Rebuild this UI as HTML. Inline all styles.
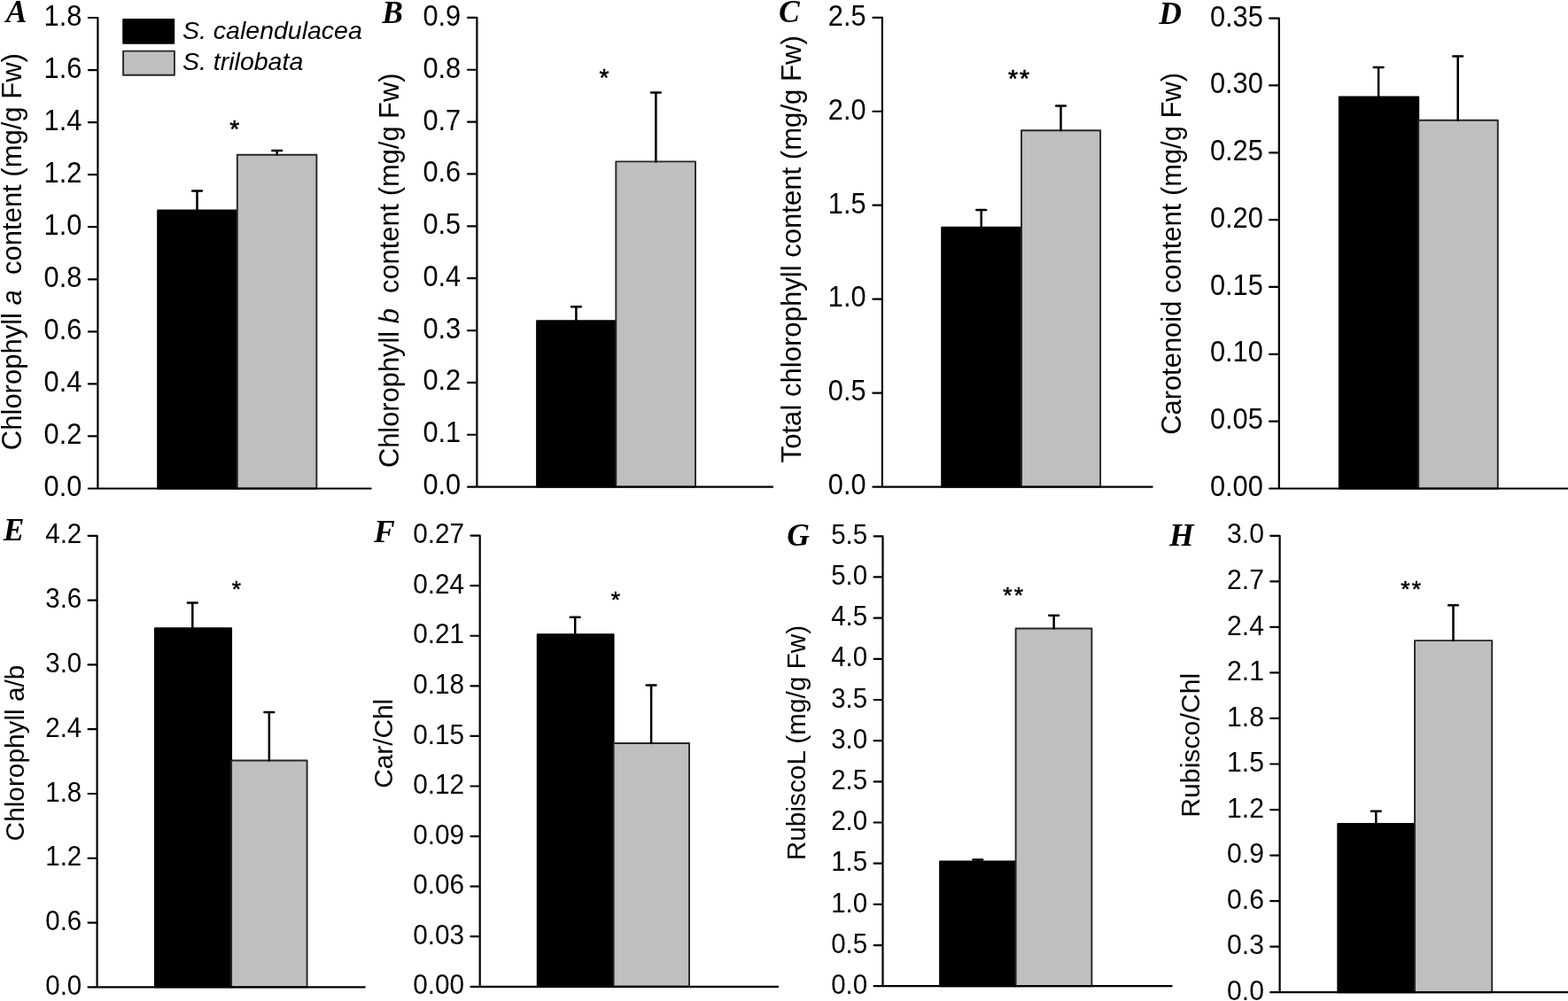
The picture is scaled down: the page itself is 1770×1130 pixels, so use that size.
<!DOCTYPE html>
<html><head><meta charset="utf-8"><title>Chlorophyll, carotenoid and Rubisco content</title>
<style>
html,body{margin:0;padding:0;background:#fff;overflow:hidden}
svg{display:block}
text{font-family:'Liberation Sans', Arial, sans-serif;fill:#000}
text.let{font-family:'Liberation Serif', 'Times New Roman', serif;font-weight:bold;font-style:italic;font-size:35.5px}
text.leg{font-style:italic;font-size:28.5px}
text.yl{white-space:pre}
</style>
</head><body>
<svg width="1770" height="1130" viewBox="0 0 1770 1130">
<rect width="1770" height="1130" fill="#fff"/>
<g class="tkt"><rect x="178.15" y="237.45" width="89.65" height="314.05" fill="#000" stroke="#000" stroke-width="1.9" stroke-linejoin="round"/><rect x="267.8" y="174.8" width="89.6" height="376.7" fill="#bfbfbf" stroke="#262626" stroke-width="1.9" stroke-linejoin="round"/><path d="M222.5 237.45V215.5M217.1 215.5H227.9M312.7 174.8V170.1M307.3 170.1H318.1" stroke="#000" stroke-width="2.5" stroke-linecap="round" fill="none"/><path d="M99.9 20H110.4V551.5M99.9 551.5H418.7M99.9 492.44H110.4M99.9 433.39H110.4M99.9 374.33H110.4M99.9 315.28H110.4M99.9 256.22H110.4M99.9 197.17H110.4M99.9 138.11H110.4M99.9 79.06H110.4" stroke="#000" stroke-width="2.2" stroke-linecap="round" stroke-linejoin="round" fill="none"/><text class="tl" transform="translate(92.3 559.95) scale(1 1.07)" text-anchor="end" font-size="30.8">0.0</text><text class="tl" transform="translate(92.3 500.97) scale(1 1.07)" text-anchor="end" font-size="30.8">0.2</text><text class="tl" transform="translate(92.3 441.99) scale(1 1.07)" text-anchor="end" font-size="30.8">0.4</text><text class="tl" transform="translate(92.3 383.02) scale(1 1.07)" text-anchor="end" font-size="30.8">0.6</text><text class="tl" transform="translate(92.3 324.04) scale(1 1.07)" text-anchor="end" font-size="30.8">0.8</text><text class="tl" transform="translate(92.3 265.06) scale(1 1.07)" text-anchor="end" font-size="30.8">1.0</text><text class="tl" transform="translate(92.3 206.08) scale(1 1.07)" text-anchor="end" font-size="30.8">1.2</text><text class="tl" transform="translate(92.3 147.11) scale(1 1.07)" text-anchor="end" font-size="30.8">1.4</text><text class="tl" transform="translate(92.3 88.13) scale(1 1.07)" text-anchor="end" font-size="30.8">1.6</text><text class="tl" transform="translate(92.3 29.15) scale(1 1.07)" text-anchor="end" font-size="30.8">1.8</text><text class="sig" x="259.22" y="155.35" font-size="28.3" letter-spacing="2.2" stroke="#000" stroke-width="0.55" stroke-linejoin="round">*</text><text class="let" x="6.85" y="24.8">A</text><text class="yl" transform="translate(24 284.15) rotate(-90)" text-anchor="middle" font-size="31">Chlorophyll <tspan font-style="italic">a</tspan>  content (mg/g Fw)</text></g>
<g class="tkt"><rect x="606.05" y="362.25" width="89.25" height="187.35" fill="#000" stroke="#000" stroke-width="1.9" stroke-linejoin="round"/><rect x="695.3" y="182.4" width="89.7" height="367.2" fill="#bfbfbf" stroke="#262626" stroke-width="1.9" stroke-linejoin="round"/><path d="M650.4 362.25V346.2M645 346.2H655.8M740.4 182.4V104.4M735 104.4H745.8" stroke="#000" stroke-width="2.5" stroke-linecap="round" fill="none"/><path d="M528 19.9H538.4V549.6M528 549.6H872.2M528 490.74H538.4M528 431.89H538.4M528 373.03H538.4M528 314.18H538.4M528 255.32H538.4M528 196.47H538.4M528 137.61H538.4M528 78.76H538.4" stroke="#000" stroke-width="2.2" stroke-linecap="round" stroke-linejoin="round" fill="none"/><text class="tl" transform="translate(520.2 558.05) scale(1 1.07)" text-anchor="end" font-size="30.8">0.0</text><text class="tl" transform="translate(520.2 499.27) scale(1 1.07)" text-anchor="end" font-size="30.8">0.1</text><text class="tl" transform="translate(520.2 440.49) scale(1 1.07)" text-anchor="end" font-size="30.8">0.2</text><text class="tl" transform="translate(520.2 381.72) scale(1 1.07)" text-anchor="end" font-size="30.8">0.3</text><text class="tl" transform="translate(520.2 322.94) scale(1 1.07)" text-anchor="end" font-size="30.8">0.4</text><text class="tl" transform="translate(520.2 264.16) scale(1 1.07)" text-anchor="end" font-size="30.8">0.5</text><text class="tl" transform="translate(520.2 205.38) scale(1 1.07)" text-anchor="end" font-size="30.8">0.6</text><text class="tl" transform="translate(520.2 146.61) scale(1 1.07)" text-anchor="end" font-size="30.8">0.7</text><text class="tl" transform="translate(520.2 87.83) scale(1 1.07)" text-anchor="end" font-size="30.8">0.8</text><text class="tl" transform="translate(520.2 29.05) scale(1 1.07)" text-anchor="end" font-size="30.8">0.9</text><text class="sig" x="676.62" y="96.65" font-size="28.3" letter-spacing="2.2" stroke="#000" stroke-width="0.55" stroke-linejoin="round">*</text><text class="let" x="431.32" y="26.39">B</text><text class="yl" transform="translate(450.4 305.3) rotate(-90)" text-anchor="middle" font-size="30.83">Chlorophyll <tspan font-style="italic">b</tspan>  content (mg/g Fw)</text></g>
<g class="tkt"><rect x="1063.15" y="256.75" width="89.85" height="292.85" fill="#000" stroke="#000" stroke-width="1.9" stroke-linejoin="round"/><rect x="1153" y="147.25" width="89.1" height="402.35" fill="#bfbfbf" stroke="#262626" stroke-width="1.9" stroke-linejoin="round"/><path d="M1107.7 256.75V237.1M1102.3 237.1H1113.1M1197.5 147.25V119.6M1192.1 119.6H1202.9" stroke="#000" stroke-width="2.5" stroke-linecap="round" fill="none"/><path d="M985.4 19.8H995.9V549.6M985.4 549.6H1300.7M985.4 443.64H995.9M985.4 337.68H995.9M985.4 231.72H995.9M985.4 125.76H995.9" stroke="#000" stroke-width="2.2" stroke-linecap="round" stroke-linejoin="round" fill="none"/><text class="tl" transform="translate(977.6 558.05) scale(1 1.07)" text-anchor="end" font-size="30.8">0.0</text><text class="tl" transform="translate(977.6 452.23) scale(1 1.07)" text-anchor="end" font-size="30.8">0.5</text><text class="tl" transform="translate(977.6 346.41) scale(1 1.07)" text-anchor="end" font-size="30.8">1.0</text><text class="tl" transform="translate(977.6 240.59) scale(1 1.07)" text-anchor="end" font-size="30.8">1.5</text><text class="tl" transform="translate(977.6 134.77) scale(1 1.07)" text-anchor="end" font-size="30.8">2.0</text><text class="tl" transform="translate(977.6 28.95) scale(1 1.07)" text-anchor="end" font-size="30.8">2.5</text><text class="sig" x="1137.92" y="98.05" font-size="28.3" letter-spacing="2.2" stroke="#000" stroke-width="0.55" stroke-linejoin="round">**</text><text class="let" x="878.99" y="25.34">C</text><text class="yl" transform="translate(904.2 281.3) rotate(-90)" text-anchor="middle" font-size="31.1">Total chlorophyll content (mg/g Fw)</text></g>
<g class="tkt"><rect x="1511.85" y="109.35" width="89.35" height="442.15" fill="#000" stroke="#000" stroke-width="1.9" stroke-linejoin="round"/><rect x="1601.2" y="135.8" width="89.6" height="415.7" fill="#bfbfbf" stroke="#262626" stroke-width="1.9" stroke-linejoin="round"/><path d="M1556.1 109.35V75.9M1550.7 75.9H1561.5M1645.7 135.8V63.4M1640.3 63.4H1651.1" stroke="#000" stroke-width="2.5" stroke-linecap="round" fill="none"/><path d="M1433 20.6H1443.8V551.5M1433 551.5H1772M1433 475.66H1443.8M1433 399.81H1443.8M1433 323.97H1443.8M1433 248.13H1443.8M1433 172.29H1443.8M1433 96.44H1443.8" stroke="#000" stroke-width="2.2" stroke-linecap="round" stroke-linejoin="round" fill="none"/><text class="tl" transform="translate(1425.8 559.95) scale(1 1.07)" text-anchor="end" font-size="30.8">0.00</text><text class="tl" transform="translate(1425.8 484.21) scale(1 1.07)" text-anchor="end" font-size="30.8">0.05</text><text class="tl" transform="translate(1425.8 408.46) scale(1 1.07)" text-anchor="end" font-size="30.8">0.10</text><text class="tl" transform="translate(1425.8 332.72) scale(1 1.07)" text-anchor="end" font-size="30.8">0.15</text><text class="tl" transform="translate(1425.8 256.98) scale(1 1.07)" text-anchor="end" font-size="30.8">0.20</text><text class="tl" transform="translate(1425.8 181.24) scale(1 1.07)" text-anchor="end" font-size="30.8">0.25</text><text class="tl" transform="translate(1425.8 105.49) scale(1 1.07)" text-anchor="end" font-size="30.8">0.30</text><text class="tl" transform="translate(1425.8 29.75) scale(1 1.07)" text-anchor="end" font-size="30.8">0.35</text><text class="let" x="1308.15" y="26.83">D</text><text class="yl" transform="translate(1333 286.45) rotate(-90)" text-anchor="middle" font-size="30.92">Carotenoid content (mg/g Fw)</text></g>
<g class="tkb"><rect x="174.95" y="709.15" width="86.15" height="405.25" fill="#000" stroke="#000" stroke-width="1.9" stroke-linejoin="round"/><rect x="261.1" y="858.5" width="85.5" height="255.9" fill="#bfbfbf" stroke="#262626" stroke-width="1.9" stroke-linejoin="round"/><path d="M217.3 709.15V680.6M211.9 680.6H222.7M303.85 858.5V804M298.45 804H309.25" stroke="#000" stroke-width="2.5" stroke-linecap="round" fill="none"/><path d="M99.55 604.8H109.6V1114.4M99.55 1114.4H411.7M99.55 1041.6H109.6M99.55 968.8H109.6M99.55 896H109.6M99.55 823.2H109.6M99.55 750.4H109.6M99.55 677.6H109.6" stroke="#000" stroke-width="2.2" stroke-linecap="round" stroke-linejoin="round" fill="none"/><text class="tl" transform="translate(92.25 1123.05) scale(1 1.05)" text-anchor="end" font-size="29.5">0.0</text><text class="tl" transform="translate(92.25 1050.25) scale(1 1.05)" text-anchor="end" font-size="29.5">0.6</text><text class="tl" transform="translate(92.25 977.45) scale(1 1.05)" text-anchor="end" font-size="29.5">1.2</text><text class="tl" transform="translate(92.25 904.65) scale(1 1.05)" text-anchor="end" font-size="29.5">1.8</text><text class="tl" transform="translate(92.25 831.85) scale(1 1.05)" text-anchor="end" font-size="29.5">2.4</text><text class="tl" transform="translate(92.25 759.05) scale(1 1.05)" text-anchor="end" font-size="29.5">3.0</text><text class="tl" transform="translate(92.25 686.25) scale(1 1.05)" text-anchor="end" font-size="29.5">3.6</text><text class="tl" transform="translate(92.25 613.45) scale(1 1.05)" text-anchor="end" font-size="29.5">4.2</text><text class="sig" x="261.65" y="674.04" font-size="26.4" letter-spacing="2.3" stroke="#000" stroke-width="0.55" stroke-linejoin="round">*</text><text class="let" x="3.85" y="609.7">E</text><text class="yl" transform="translate(27 850) rotate(-90)" text-anchor="middle" font-size="29.8">Chlorophyll a/b</text></g>
<g class="tkb"><rect x="606.75" y="716.2" width="85.85" height="397.6" fill="#000" stroke="#000" stroke-width="1.9" stroke-linejoin="round"/><rect x="692.6" y="839" width="85.4" height="274.8" fill="#bfbfbf" stroke="#262626" stroke-width="1.9" stroke-linejoin="round"/><path d="M649.2 716.2V696.8M643.8 696.8H654.6M735.1 839V773.6M729.7 773.6H740.5" stroke="#000" stroke-width="2.5" stroke-linecap="round" fill="none"/><path d="M531.4 604.6H541.7V1113.8M531.4 1113.8H878.3M531.4 1057.22H541.7M531.4 1000.64H541.7M531.4 944.07H541.7M531.4 887.49H541.7M531.4 830.91H541.7M531.4 774.33H541.7M531.4 717.76H541.7M531.4 661.18H541.7" stroke="#000" stroke-width="2.2" stroke-linecap="round" stroke-linejoin="round" fill="none"/><text class="tl" transform="translate(524.15 1122.45) scale(1 1.05)" text-anchor="end" font-size="29.8">0.00</text><text class="tl" transform="translate(524.15 1065.87) scale(1 1.05)" text-anchor="end" font-size="29.8">0.03</text><text class="tl" transform="translate(524.15 1009.29) scale(1 1.05)" text-anchor="end" font-size="29.8">0.06</text><text class="tl" transform="translate(524.15 952.72) scale(1 1.05)" text-anchor="end" font-size="29.8">0.09</text><text class="tl" transform="translate(524.15 896.14) scale(1 1.05)" text-anchor="end" font-size="29.8">0.12</text><text class="tl" transform="translate(524.15 839.56) scale(1 1.05)" text-anchor="end" font-size="29.8">0.15</text><text class="tl" transform="translate(524.15 782.98) scale(1 1.05)" text-anchor="end" font-size="29.8">0.18</text><text class="tl" transform="translate(524.15 726.41) scale(1 1.05)" text-anchor="end" font-size="29.8">0.21</text><text class="tl" transform="translate(524.15 669.83) scale(1 1.05)" text-anchor="end" font-size="29.8">0.24</text><text class="tl" transform="translate(524.15 613.25) scale(1 1.05)" text-anchor="end" font-size="29.8">0.27</text><text class="sig" x="689.65" y="686.04" font-size="26.4" letter-spacing="2.3" stroke="#000" stroke-width="0.55" stroke-linejoin="round">*</text><text class="let" x="421.94" y="612.2">F</text><text class="yl" transform="translate(442.5 839.35) rotate(-90)" text-anchor="middle" font-size="29.8">Car/Chl</text></g>
<g class="tkb"><rect x="1061.05" y="972.35" width="85.55" height="140.85" fill="#000" stroke="#000" stroke-width="1.9" stroke-linejoin="round"/><rect x="1146.6" y="709.5" width="85.8" height="403.7" fill="#bfbfbf" stroke="#262626" stroke-width="1.9" stroke-linejoin="round"/><path d="M1103.8 972.35V970.6M1098.4 970.6H1109.2M1189.65 709.5V694.85M1184.25 694.85H1195.05" stroke="#000" stroke-width="2.5" stroke-linecap="round" fill="none"/><path d="M986.6 605.3H996.5V1113.2M986.6 1113.2H1322.6M986.6 1067.03H996.5M986.6 1020.85H996.5M986.6 974.68H996.5M986.6 928.51H996.5M986.6 882.34H996.5M986.6 836.16H996.5M986.6 789.99H996.5M986.6 743.82H996.5M986.6 697.65H996.5M986.6 651.47H996.5" stroke="#000" stroke-width="2.2" stroke-linecap="round" stroke-linejoin="round" fill="none"/><text class="tl" transform="translate(979.15 1121.85) scale(1 1.05)" text-anchor="end" font-size="29.5">0.0</text><text class="tl" transform="translate(979.15 1075.68) scale(1 1.05)" text-anchor="end" font-size="29.5">0.5</text><text class="tl" transform="translate(979.15 1029.5) scale(1 1.05)" text-anchor="end" font-size="29.5">1.0</text><text class="tl" transform="translate(979.15 983.33) scale(1 1.05)" text-anchor="end" font-size="29.5">1.5</text><text class="tl" transform="translate(979.15 937.16) scale(1 1.05)" text-anchor="end" font-size="29.5">2.0</text><text class="tl" transform="translate(979.15 890.99) scale(1 1.05)" text-anchor="end" font-size="29.5">2.5</text><text class="tl" transform="translate(979.15 844.81) scale(1 1.05)" text-anchor="end" font-size="29.5">3.0</text><text class="tl" transform="translate(979.15 798.64) scale(1 1.05)" text-anchor="end" font-size="29.5">3.5</text><text class="tl" transform="translate(979.15 752.47) scale(1 1.05)" text-anchor="end" font-size="29.5">4.0</text><text class="tl" transform="translate(979.15 706.3) scale(1 1.05)" text-anchor="end" font-size="29.5">4.5</text><text class="tl" transform="translate(979.15 660.12) scale(1 1.05)" text-anchor="end" font-size="29.5">5.0</text><text class="tl" transform="translate(979.15 613.95) scale(1 1.05)" text-anchor="end" font-size="29.5">5.5</text><text class="sig" x="1132.25" y="680.84" font-size="26.4" letter-spacing="2.3" stroke="#000" stroke-width="0.55" stroke-linejoin="round">**</text><text class="let" x="888.19" y="616.44">G</text><text class="yl" transform="translate(909 838.5) rotate(-90)" text-anchor="middle" font-size="29.8">RubiscoL (mg/g Fw)</text></g>
<g class="tkb"><rect x="1510.25" y="929.95" width="86.75" height="190.25" fill="#000" stroke="#000" stroke-width="1.9" stroke-linejoin="round"/><rect x="1597" y="723.1" width="87.2" height="397.1" fill="#bfbfbf" stroke="#262626" stroke-width="1.9" stroke-linejoin="round"/><path d="M1553.3 929.95V915.7M1547.9 915.7H1558.7M1640.5 723.1V683.2M1635.1 683.2H1645.9" stroke="#000" stroke-width="2.5" stroke-linecap="round" fill="none"/><path d="M1434.2 604.8H1444.6V1120.2M1434.2 1120.2H1772M1434.2 1068.66H1444.6M1434.2 1017.12H1444.6M1434.2 965.58H1444.6M1434.2 914.04H1444.6M1434.2 862.5H1444.6M1434.2 810.96H1444.6M1434.2 759.42H1444.6M1434.2 707.88H1444.6M1434.2 656.34H1444.6" stroke="#000" stroke-width="2.2" stroke-linecap="round" stroke-linejoin="round" fill="none"/><text class="tl" transform="translate(1426.95 1128.85) scale(1 1.05)" text-anchor="end" font-size="30.1">0.0</text><text class="tl" transform="translate(1426.95 1077.31) scale(1 1.05)" text-anchor="end" font-size="30.1">0.3</text><text class="tl" transform="translate(1426.95 1025.77) scale(1 1.05)" text-anchor="end" font-size="30.1">0.6</text><text class="tl" transform="translate(1426.95 974.23) scale(1 1.05)" text-anchor="end" font-size="30.1">0.9</text><text class="tl" transform="translate(1426.95 922.69) scale(1 1.05)" text-anchor="end" font-size="30.1">1.2</text><text class="tl" transform="translate(1426.95 871.15) scale(1 1.05)" text-anchor="end" font-size="30.1">1.5</text><text class="tl" transform="translate(1426.95 819.61) scale(1 1.05)" text-anchor="end" font-size="30.1">1.8</text><text class="tl" transform="translate(1426.95 768.07) scale(1 1.05)" text-anchor="end" font-size="30.1">2.1</text><text class="tl" transform="translate(1426.95 716.53) scale(1 1.05)" text-anchor="end" font-size="30.1">2.4</text><text class="tl" transform="translate(1426.95 664.99) scale(1 1.05)" text-anchor="end" font-size="30.1">2.7</text><text class="tl" transform="translate(1426.95 613.45) scale(1 1.05)" text-anchor="end" font-size="30.1">3.0</text><text class="sig" x="1581.25" y="674.34" font-size="26.4" letter-spacing="2.3" stroke="#000" stroke-width="0.55" stroke-linejoin="round">**</text><text class="let" x="1319.95" y="616">H</text><text class="yl" transform="translate(1354 841.3) rotate(-90)" text-anchor="middle" font-size="30.25">Rubisco/Chl</text></g>
<rect x="139.15" y="22.05" width="57.1" height="26.8" fill="#000" stroke="#000" stroke-width="1.9" stroke-linejoin="round"/>
<rect x="139.1" y="57.6" width="57.8" height="27.2" fill="#bfbfbf" stroke="#262626" stroke-width="1.9" stroke-linejoin="round"/>
<text class="leg" x="206" y="44.4">S. calendulacea</text>
<text class="leg" x="206" y="78.8">S. trilobata</text>
</svg>
</body></html>
